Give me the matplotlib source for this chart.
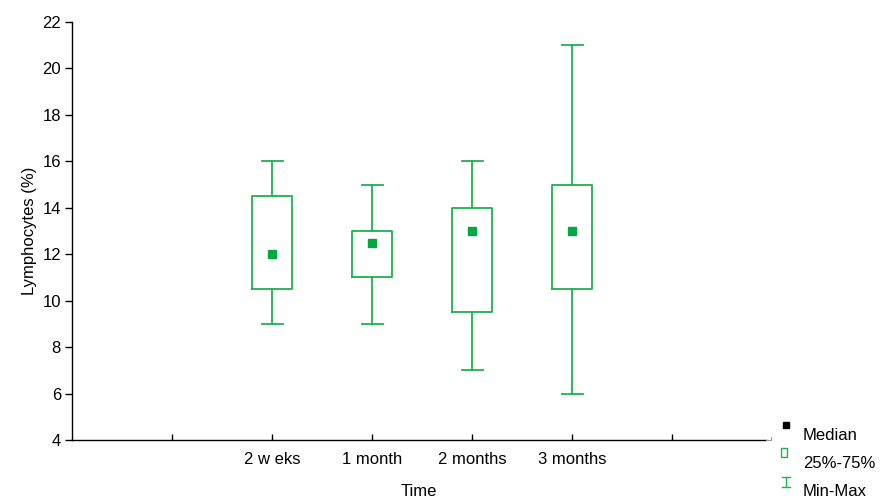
import matplotlib
matplotlib.use("Agg")
import matplotlib.pyplot as plt
from matplotlib.lines import Line2D
from matplotlib.patches import Rectangle

plt.rcParams['font.family'] = ['Liberation Sans', 'DejaVu Sans']

categories = ["2 w eks", "1 month", "2 months", "3 months"]
mins = [9, 9, 7, 6]
q1s = [10.5, 11, 9.5, 10.5]
medians = [12, 12.5, 13, 13]
q3s = [14.5, 13, 14, 15]
maxs = [16, 15, 16, 21]

green = '#1DB24E'
median_green = '#00A843'
FS = 12

fig = plt.figure(figsize=(8.86, 4.99), dpi=100)
ax = fig.add_axes([72/886, 1-440/499, (766-72)/886, (440-22)/499])

positions = [1, 2, 3, 4]
stats = []
for c, lo, a, m, b, hi in zip(categories, mins, q1s, medians, q3s, maxs):
    stats.append(dict(label=c, whislo=lo, q1=a, med=m, q3=b, whishi=hi, fliers=[]))

ax.bxp(stats, positions=positions, widths=0.4, showfliers=False,
       boxprops=dict(color=green, linewidth=1.3),
       whiskerprops=dict(color=green, linewidth=1.3),
       capprops=dict(color=green, linewidth=1.3),
       medianprops=dict(visible=False),
       capwidths=0.21)
ax.plot(positions, medians, 's', color=median_green, markersize=5.5, linestyle='none', zorder=5)

ax.set_xlim(-1, 5.94)
ax.set_ylim(4, 22)
ax.set_yticks(range(4, 23, 2))
ax.set_xticks([0, 1, 2, 3, 4, 5])
ax.set_xticklabels([""] + categories + [""])

for s in ['top', 'right']:
    ax.spines[s].set_visible(False)
for s in ['left', 'bottom']:
    ax.spines[s].set_linewidth(1.0)
    ax.spines[s].set_color('black')

ax.tick_params(axis='y', direction='out', length=5, width=1, labelsize=FS, pad=3)
ax.tick_params(axis='x', direction='in', length=4, width=1, labelsize=FS, pad=9)

ax.set_ylabel("Lymphocytes (%)", fontsize=FS, labelpad=4)
ax.set_xlabel("Time", fontsize=FS, labelpad=12)

# legend (manually placed like the original)
W, H = 886, 499
def fx(x): return x / W
def fy(y): return 1 - y / H

# small corner mark at axis end
fig.add_artist(Line2D([fx(766), fx(771), fx(771)], [fy(440), fy(440), fy(437)], color='#999999', linewidth=0.8))

fig.add_artist(Line2D([fx(786)], [fy(425)], marker='s', color='black', markersize=4, linestyle='none'))
fig.text(fx(803), fy(435), "Median", fontsize=FS, va='center', ha='left')
fig.add_artist(Rectangle((fx(781), fy(457)), 6/W, 9/H, facecolor='none', edgecolor=green, linewidth=1.0))
fig.text(fx(803), fy(463), "25%-75%", fontsize=FS, va='center', ha='left')
fig.add_artist(Line2D([fx(786), fx(786)], [fy(477), fy(487)], color=green, linewidth=1.0))
fig.add_artist(Line2D([fx(782), fx(790)], [fy(477), fy(477)], color=green, linewidth=1.0))
fig.add_artist(Line2D([fx(782), fx(790)], [fy(487), fy(487)], color=green, linewidth=1.0))
fig.text(fx(803), fy(491), "Min-Max", fontsize=FS, va='center', ha='left')

fig.savefig("out.png", dpi=100)
